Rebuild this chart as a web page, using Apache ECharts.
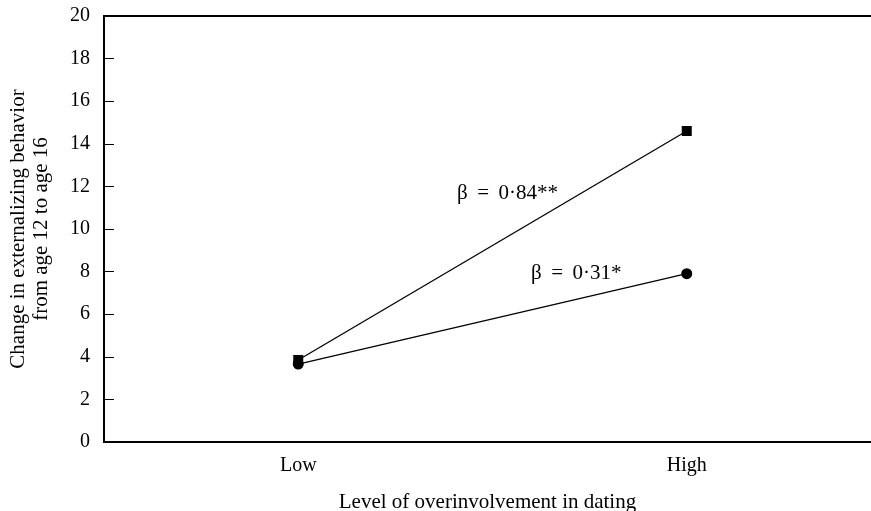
<!DOCTYPE html>
<html>
<head>
<meta charset="utf-8">
<script src="https://cdn.jsdelivr.net/npm/echarts@6/dist/echarts.min.js"></script>
<style>html,body{margin:0;padding:0;background:#fff;}#c{width:871px;height:511px;}</style>
</head>
<body>
<div id="c"></div>
<script>
const categories = ['Low', 'High'];
const squareSeries = [3.85, 14.6];
const circleSeries = [3.66, 7.9];
const yTicks = [0, 2, 4, 6, 8, 10, 12, 14, 16, 18, 20];
const annotations = ['β \u2009= \u20090·84**', 'β \u2009= \u20090·31*'];

const font = '"Liberation Serif", "Times New Roman", serif';
const chart = echarts.init(document.getElementById('c'));
chart.setOption({
  animation: false,
  backgroundColor: '#fff',
  grid: { left: 104, right: -10, top: 16, bottom: 69, outerBoundsMode: 'none', containLabel: false },
  xAxis: [{
    type: 'category',
    data: categories,
    boundaryGap: true,
    axisLine: { lineStyle: { color: '#000', width: 2 } },
    axisTick: { inside: true, length: 10, lineStyle: { color: '#000', width: 1 } },
    axisLabel: { color: '#000', fontFamily: font, fontSize: 20, margin: 14 },
    name: 'Level of overinvolvement in dating',
    nameLocation: 'middle',
    nameGap: 50,
    nameTextStyle: { color: '#000', fontFamily: font, fontSize: 21, padding: [0, 10, 0, 0] }
  }, {
    type: 'category',
    data: categories,
    position: 'top',
    axisLine: { lineStyle: { color: '#000', width: 2 } },
    axisTick: { show: false },
    axisLabel: { show: false }
  }],
  yAxis: {
    type: 'value',
    min: yTicks[0],
    max: yTicks[yTicks.length - 1],
    interval: 2,
    axisLine: { show: true, lineStyle: { color: '#000', width: 2 } },
    axisTick: { show: true, inside: true, length: 10, lineStyle: { color: '#000', width: 1 } },
    axisLabel: { color: '#000', fontFamily: font, fontSize: 20, margin: 14 },
    splitLine: { show: false },
    name: 'Change in externalizing behavior\nfrom age 12 to age 16',
    nameLocation: 'middle',
    nameGap: 45,
    nameTextStyle: { color: '#000', fontFamily: font, fontSize: 21, lineHeight: 23, padding: [0, 0, 6, 0] }
  },
  series: [{
    type: 'line',
    data: squareSeries,
    symbol: 'rect',
    symbolSize: 10,
    lineStyle: { color: '#000', width: 1.3 },
    itemStyle: { color: '#000' }
  }, {
    type: 'line',
    data: circleSeries,
    symbol: 'circle',
    symbolSize: 11,
    lineStyle: { color: '#000', width: 1.3 },
    itemStyle: { color: '#000' }
  }],
  graphic: [{
    type: 'text', left: 457, top: 183,
    style: { text: annotations[0], font: '21px ' + font, fill: '#000' }
  }, {
    type: 'text', left: 531, top: 263,
    style: { text: annotations[1], font: '21px ' + font, fill: '#000' }
  }]
});
</script>
</body>
</html>
